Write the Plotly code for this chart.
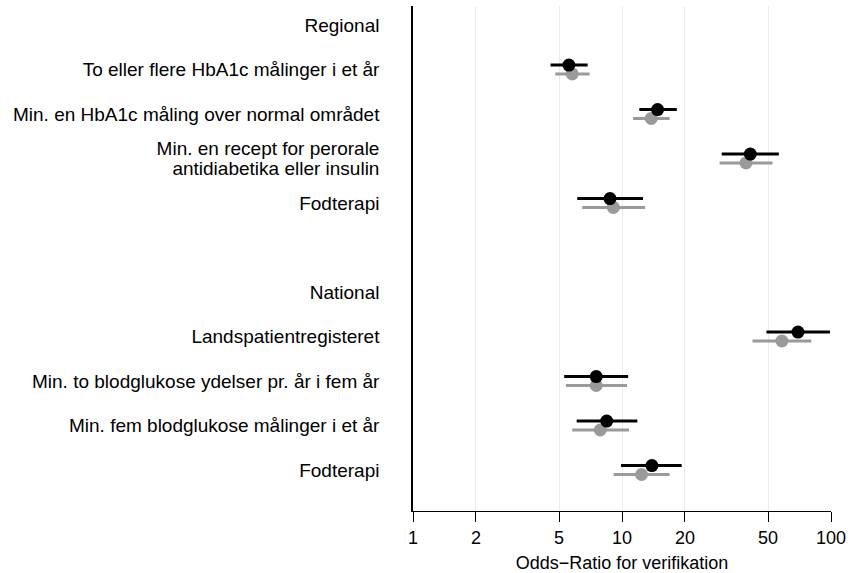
import plotly.graph_objects as go

regional_items = [
    "To eller flere HbA1c målinger i et år",
    "Min. en HbA1c måling over normal området",
    "Min. en recept for perorale\nantidiabetika eller insulin",
    "Fodterapi",
]
national_items = [
    "Landspatientregisteret",
    "Min. to blodglukose ydelser pr. år i fem år",
    "Min. fem blodglukose målinger i et år",
    "Fodterapi",
]

black_or = [5.57, 14.8, 41.1, 8.76, 69.5, 7.53, 8.45, 13.9]
black_lo = [4.55, 12.1, 30.0, 6.11, 49.1, 5.29, 6.07, 9.89]
black_hi = [6.85, 18.3, 56.3, 12.6, 98.9, 10.7, 11.84, 19.3]
gray_or = [5.78, 13.8, 39.2, 9.09, 58.2, 7.53, 7.87, 12.4]
gray_lo = [4.79, 11.3, 29.3, 6.45, 42.1, 5.39, 5.78, 9.12]
gray_hi = [7.0, 16.9, 52.5, 12.9, 80.5, 10.57, 10.8, 16.9]

x_ticks = [1, 2, 5, 10, 20, 50, 100]

rows = ["Regional"] + regional_items + [""] + ["National"] + national_items
row_pos = [i for i, r in enumerate(rows) if r in regional_items or r in national_items]

# tick labels (multi-line labels are split into lines stacked tightly)
tick_pos, tick_text = [], []
for i, r in enumerate(rows):
    lines = r.split("\n")
    n = len(lines)
    for k, line in enumerate(lines):
        tick_pos.append(i + (k - (n - 1) / 2) * 0.45)
        tick_text.append(line)

FONT = "Liberation Sans, Arial, sans-serif"

def trace(orv, lo, hi, color, offset):
    return go.Scatter(
        x=orv,
        y=[p + offset for p in row_pos],
        mode="markers",
        marker=dict(color=color, size=13, line=dict(width=0)),
        error_x=dict(
            type="data", symmetric=False,
            array=[h - o for h, o in zip(hi, orv)],
            arrayminus=[o - l for o, l in zip(orv, lo)],
            color=color, thickness=3, width=0,
        ),
        showlegend=False,
        hoverinfo="skip",
    )

fig = go.Figure()
fig.add_trace(trace(gray_or, gray_lo, gray_hi, "#9a9a9a", 0.1))
fig.add_trace(trace(black_or, black_lo, black_hi, "#000000", -0.1))

fig.update_layout(
    width=848, height=573,
    margin=dict(l=413, r=17, t=6, b=62, autoexpand=False),
    plot_bgcolor="white", paper_bgcolor="white",
    font=dict(family=FONT, size=19, color="#000000"),
    xaxis=dict(
        type="log", range=[0, 2],
        tickvals=x_ticks, ticktext=[str(v) for v in x_ticks],
        showgrid=True, gridcolor="#ebebeb", gridwidth=1,
        showline=True, linecolor="#000000", linewidth=1.3,
        ticks="outside", ticklen=10, tickwidth=1.3, tickcolor="#000000",
        zeroline=False,
        title=dict(text="Odds\u2212Ratio for verifikation", standoff=15, font=dict(size=18)),
        tickfont=dict(size=18),
    ),
    yaxis=dict(
        range=[10.92, -0.427],
        tickvals=tick_pos, ticktext=tick_text,
        showgrid=False, zeroline=False,
        showline=True, linecolor="#000000", linewidth=1.5,
        ticks="", ticklabelstandoff=28,
        tickfont=dict(size=19),
    ),
)

fig.write_html(
    "out.html",
    config={"displayModeBar": False},
    post_script="document.body.style.margin='0';document.body.style.overflow='hidden';",
)
